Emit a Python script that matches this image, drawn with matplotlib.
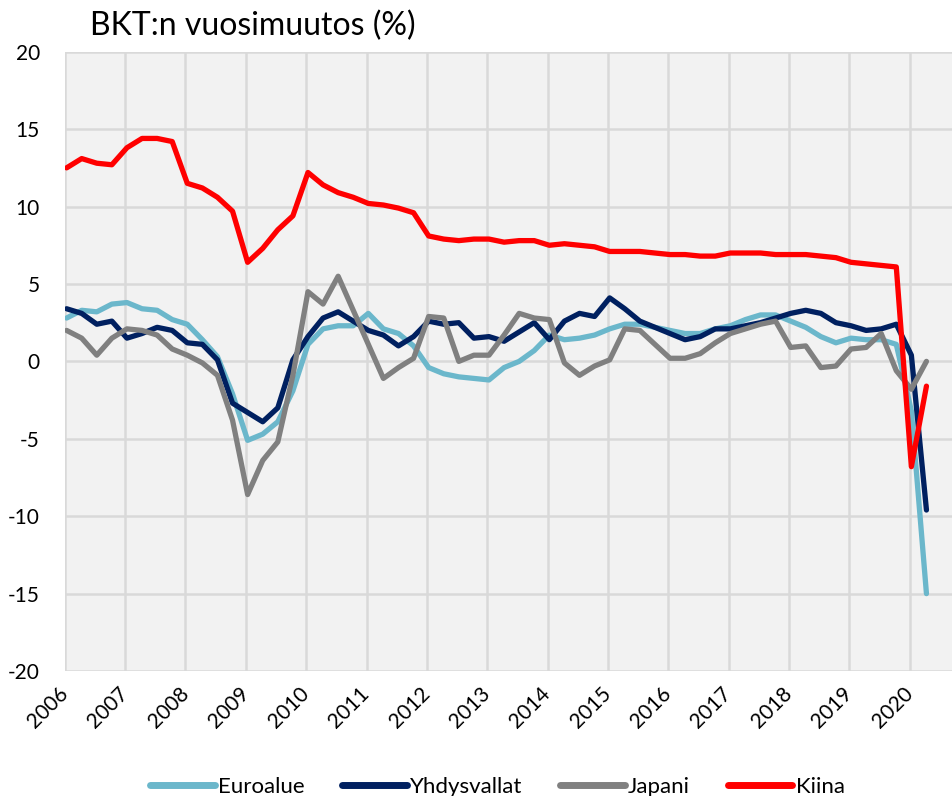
import numpy as np
from matplotlib import pyplot as plt

plt.rcParams["font.family"] = ["Lato", "DejaVu Sans"]
plt.rcParams["axes.unicode_minus"] = False

# quarterly data, 2006Q1 .. 2020Q2
start_year = 2006
years = list(range(2006, 2021))

euroalue = [2.8, 3.3, 3.2, 3.7, 3.8, 3.4, 3.3, 2.7, 2.4, 1.4, 0.3, -2.1,
            -5.1, -4.7, -3.9, -1.9, 1.1, 2.1, 2.3, 2.3, 3.1, 2.1, 1.8, 1.0,
            -0.4, -0.8, -1.0, -1.1, -1.2, -0.4, 0.0, 0.7, 1.7, 1.4, 1.5, 1.7,
            2.1, 2.4, 2.4, 2.2, 2.0, 1.8, 1.8, 2.1, 2.3, 2.7, 3.0, 3.0,
            2.6, 2.2, 1.6, 1.2, 1.5, 1.4, 1.4, 1.1, -3.2, -15.0]
yhdysvallat = [3.4, 3.1, 2.4, 2.6, 1.5, 1.8, 2.2, 2.0, 1.2, 1.1, 0.1, -2.7,
               -3.3, -3.9, -3.0, 0.1, 1.6, 2.8, 3.2, 2.6, 2.0, 1.7, 1.0, 1.6,
               2.6, 2.4, 2.5, 1.5, 1.6, 1.3, 1.9, 2.5, 1.4, 2.6, 3.1, 2.9,
               4.1, 3.4, 2.6, 2.2, 1.8, 1.4, 1.6, 2.1, 2.1, 2.3, 2.5, 2.8,
               3.1, 3.3, 3.1, 2.5, 2.3, 2.0, 2.1, 2.4, 0.4, -9.6]
japani = [2.0, 1.5, 0.4, 1.5, 2.1, 2.0, 1.7, 0.8, 0.4, -0.1, -0.9, -3.8,
          -8.6, -6.4, -5.2, -0.9, 4.5, 3.7, 5.5, 3.3, 1.1, -1.1, -0.4, 0.2,
          2.9, 2.8, 0.0, 0.4, 0.4, 1.7, 3.1, 2.8, 2.7, -0.1, -0.9, -0.3,
          0.1, 2.1, 2.0, 1.1, 0.2, 0.2, 0.5, 1.2, 1.8, 2.1, 2.4, 2.6,
          0.9, 1.0, -0.4, -0.3, 0.8, 0.9, 1.8, -0.6, -1.8, 0.0]
kiina = [12.5, 13.1, 12.8, 12.7, 13.8, 14.4, 14.4, 14.2, 11.5, 11.2, 10.6, 9.7,
         6.4, 7.3, 8.5, 9.4, 12.2, 11.4, 10.9, 10.6, 10.2, 10.1, 9.9, 9.6,
         8.1, 7.9, 7.8, 7.9, 7.9, 7.7, 7.8, 7.8, 7.5, 7.6, 7.5, 7.4,
         7.1, 7.1, 7.1, 7.0, 6.9, 6.9, 6.8, 6.8, 7.0, 7.0, 7.0, 6.9,
         6.9, 6.9, 6.8, 6.7, 6.4, 6.3, 6.2, 6.1, -6.8, -1.6]

series = [
    ("Euroalue", euroalue, "#6bb7cb"),
    ("Yhdysvallat", yhdysvallat, "#002060"),
    ("Japani", japani, "#808080"),
    ("Kiina", kiina, "#ff0000"),
]

# points sit slightly right of the year gridline
x = start_year + 0.03 + np.arange(len(kiina)) / 4

fig = plt.figure(figsize=(9.53, 7.96), dpi=100)
ax = fig.add_axes([0.068, 0.157, 0.932, 0.778])
ax.set_facecolor("#f2f2f2")

for label, vals, color in series:
    ax.plot(x, vals, color=color, lw=3.8, label=label, solid_capstyle="round",
            solid_joinstyle="round")

ax.set_xlim(2006, 2020.72)
ax.set_ylim(-20, 20)
ax.set_yticks(range(-20, 21, 5))
ax.set_xticks(years)
ax.set_xticklabels([str(y) for y in years], rotation=45, ha="right",
                   va="center", rotation_mode="anchor")

ax.grid(True, color="#d9d9d9", lw=1.8)
ax.set_axisbelow(True)
for s in ax.spines.values():
    s.set_visible(False)
ax.tick_params(length=0, labelsize=15, colors="black")
ax.tick_params(axis="y", pad=18)
ax.tick_params(axis="x", pad=14)

fig.text(0.094, 0.967, "BKT:n vuosimuutos (%)", fontsize=23, va="center")

leg = ax.legend(loc="center", bbox_to_anchor=(0.487, -0.187), ncol=4,
                frameon=False, fontsize=16, handlelength=2.9,
                handletextpad=0.15, columnspacing=1.7)
for h in leg.get_lines():
    h.set_linewidth(5)

plt.savefig("out.png", dpi=100)
